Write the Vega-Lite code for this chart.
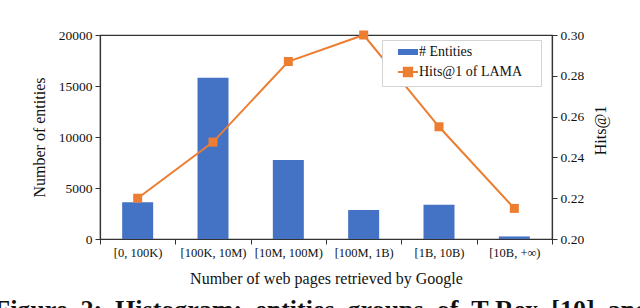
{
  "$schema": "https://vega.github.io/schema/vega-lite/v6.json",
  "width": 452,
  "height": 204,
  "autosize": {"type": "none"},
  "padding": {"left": 100, "top": 35, "right": 88, "bottom": 69},
  "background": "white",
  "config": {
    "font": "Liberation Serif",
    "view": {"stroke": "#333", "strokeWidth": 1.2},
    "axis": {
      "grid": false,
      "domainColor": "#333",
      "domainWidth": 1.2,
      "tickColor": "#333",
      "tickSize": 5,
      "labelColor": "#111",
      "titleColor": "#111",
      "labelFont": "Liberation Serif",
      "titleFont": "Liberation Serif",
      "titleFontWeight": "normal"
    }
  },
  "title": {
    "text": "Figure\u00a0\u00a02:\u00a0\u00a0Histogram:\u00a0\u00a0entities\u00a0\u00a0groups\u00a0\u00a0of\u00a0\u00a0T-Rex\u00a0\u00a0[10]\u00a0\u00a0and",
    "orient": "bottom",
    "anchor": "start",
    "frame": "bounds",
    "font": "Liberation Serif",
    "fontSize": 26,
    "fontWeight": "bold",
    "color": "#111",
    "baseline": "top",
    "offset": 10,
    "dx": -37
  },
  "data": {
    "values": [
      {"range": "[0, 100K)", "entities": 3600, "hits": 0.220},
      {"range": "[100K, 10M)", "entities": 15800, "hits": 0.2475},
      {"range": "[10M, 100M)", "entities": 7750, "hits": 0.287},
      {"range": "[100M, 1B)", "entities": 2850, "hits": 0.300},
      {"range": "[1B, 10B)", "entities": 3350, "hits": 0.255},
      {"range": "[10B, +∞)", "entities": 250, "hits": 0.215}
    ]
  },
  "layer": [
    {
      "mark": {"type": "bar", "width": 31},
      "encoding": {
        "x": {
          "field": "range",
          "type": "nominal",
          "sort": null,
          "scale": {"paddingInner": 0, "paddingOuter": 0},
          "axis": {
            "title": "Number of web pages retrieved by Google",
            "titleFontSize": 16,
            "titlePadding": 12,
            "labelFontSize": 12.5,
            "labelAngle": 0,
            "labelPadding": 2,
            "tickBand": "extent"
          }
        },
        "y": {
          "field": "entities",
          "type": "quantitative",
          "scale": {"domain": [0, 20000], "nice": false},
          "axis": {
            "title": "Number of entities",
            "titleFontSize": 16,
            "titlePadding": 11,
            "labelFontSize": 13.5,
            "labelPadding": 3,
            "values": [0, 5000, 10000, 15000, 20000],
            "format": "d"
          }
        },
        "color": {
          "datum": "# Entities",
          "scale": {"domain": ["# Entities", "Hits@1 of LAMA"], "range": ["#4472C4", "#ED7D31"]},
          "legend": {
            "title": "\u00a0",
            "titleOrient": "right",
            "titlePadding": 14,
            "titleFontSize": 2,
            "orient": "none",
            "legendX": 282,
            "legendY": 5,
            "fillColor": "white",
            "strokeColor": "#d4d4d4",
            "padding": 5,
            "rowPadding": 4,
            "symbolSize": 400,
            "symbolOffset": 14,
            "labelOffset": 4,
            "labelFontSize": 14,
            "labelFont": "Liberation Serif",
            "labelColor": "#111",
            "encode": {
              "symbols": {
                "update": {
                  "shape": {"signal": "datum.value === '# Entities' ? 'M-1,-0.3H1V0.3H-1Z' : 'M-1,0H1M-0.42,-0.42H0.42V0.42H-0.42Z'"},
                  "fill": {"signal": "datum.value === '# Entities' ? '#4472C4' : '#ED7D31'"},
                  "stroke": {"signal": "datum.value === '# Entities' ? 'transparent' : '#ED7D31'"},
                  "strokeWidth": {"signal": "datum.value === '# Entities' ? 0 : 2"},
                  "opacity": {"value": 1}
                }
              }
            }
          }
        }
      }
    },
    {
      "mark": {"type": "line", "strokeWidth": 2, "point": {"shape": "square", "size": 81, "filled": true, "opacity": 1}},
      "encoding": {
        "x": {"field": "range", "type": "nominal", "sort": null},
        "y": {
          "field": "hits",
          "type": "quantitative",
          "scale": {"domain": [0.2, 0.3], "nice": false, "zero": false},
          "axis": {
            "orient": "right",
            "title": "Hits@1",
            "titleFontSize": 16,
            "titleAngle": -90,
            "titleX": 48,
            "titleY": 95,
            "titleAlign": "center",
            "titleBaseline": "middle",
            "labelFontSize": 13.5,
            "labelPadding": 3,
            "values": [0.2, 0.22, 0.24, 0.26, 0.28, 0.3],
            "format": ".2f"
          }
        },
        "color": {"datum": "Hits@1 of LAMA"}
      }
    }
  ],
  "resolve": {"scale": {"y": "independent"}}
}
